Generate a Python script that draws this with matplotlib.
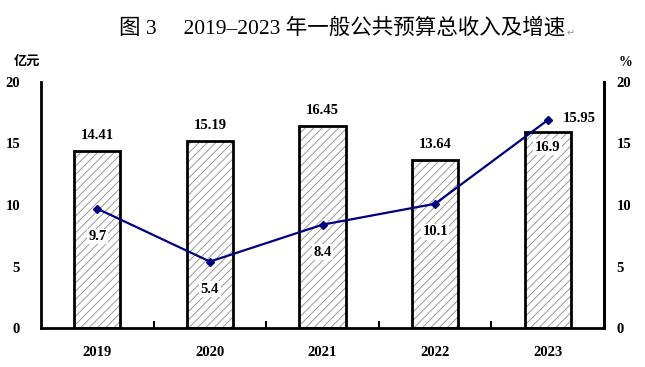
import numpy as np
import matplotlib.pyplot as plt

plt.rcParams['hatch.linewidth'] = 0.7
plt.rcParams['hatch.color'] = '#9a9a9a'

# data
years = ['2019', '2020', '2021', '2022', '2023']
revenue = [14.41, 15.19, 16.45, 13.64, 15.95]   # 亿元
growth = [9.7, 5.4, 8.4, 10.1, 16.9]            # %
yticks = [0, 5, 10, 15, 20]

serif = ['Liberation Serif', 'Noto Sans CJK SC']
fig = plt.figure(figsize=(6.45, 3.67), dpi=100)
ax = fig.add_axes([41/645, 1-328/367, 563/645, 246/367])
x = np.arange(len(years))

# bars: gray hatch first, then black outline on top
ax.bar(x, revenue, width=0.41, color='white', edgecolor='#9a9a9a', linewidth=0, hatch='////', zorder=2)
ax.bar(x, revenue, width=0.41, fill=False, edgecolor='black', linewidth=2, zorder=3)

ax.set_xlim(-0.5, 4.5)
ax.set_ylim(0, 20)
ax.set_yticks(yticks)
ax.set_yticks([20], minor=True)
ax.set_xticks(x)
ax.set_xticklabels(years)
ax.set_xticks(x[:-1] + 0.5, minor=True)
ax.tick_params(axis='x', which='major', length=0, pad=13)
ax.tick_params(axis='x', which='minor', direction='in', length=5, width=1.5)
ax.tick_params(axis='y', which='major', length=0, pad=15)
ax.tick_params(axis='y', which='minor', direction='in', length=5, width=1.5)
for lab in ax.get_xticklabels() + ax.get_yticklabels():
    lab.set_fontfamily(serif)
    lab.set_fontweight('bold')
    lab.set_fontsize(10.5)
for s in ['left', 'bottom', 'right']:
    ax.spines[s].set_linewidth(2)
ax.spines['top'].set_visible(False)

# growth line on right axis
ax2 = ax.twinx()
ax2.set_ylim(0, 20)
ax2.set_yticks(yticks)
ax2.set_yticks([20], minor=True)
ax2.plot(x, growth, color='#000080', linewidth=1.6, marker='D', markersize=4, zorder=4)
ax2.tick_params(axis='y', which='major', length=0, pad=9)
ax2.tick_params(axis='y', which='minor', direction='in', length=5, width=1.5)
for lab in ax2.get_yticklabels():
    lab.set_fontfamily(serif)
    lab.set_fontweight('bold')
    lab.set_fontsize(10.5)
ax2.spines['top'].set_visible(False)
ax2.spines['right'].set_linewidth(2)
ax2.spines['left'].set_visible(False)
ax2.spines['bottom'].set_visible(False)

# labels
for i, v in enumerate(revenue):
    if i == 4:
        ax2.annotate(f'{v:.2f}', (x[i], growth[i]), xytext=(23, 1), textcoords='offset points',
                     ha='center', va='center', fontsize=10.5, fontweight='bold', family=serif)
    else:
        ax.annotate(f'{v:.2f}', (x[i], v), xytext=(0, 11), textcoords='offset points',
                    ha='center', va='center', fontsize=10.5, fontweight='bold', family=serif)
for i, g in enumerate(growth):
    if i == 4:
        ax.annotate(f'{g}', (x[i], revenue[i]), xytext=(0, -11), textcoords='offset points',
                    ha='center', va='center', fontsize=10.5, fontweight='bold', family=serif,
                    bbox=dict(facecolor='white', edgecolor='none', pad=1))
    else:
        ax2.annotate(f'{g}', (x[i], g), xytext=(0, -20), textcoords='offset points',
                     ha='center', va='center', fontsize=10.5, fontweight='bold', family=serif,
                     bbox=dict(facecolor='white', edgecolor='none', pad=1))

fig.text(342/645, 1-28/367, '图 3\u2003 2019–2023 年一般公共预算总收入及增速', ha='center', va='center',
         fontsize=15.5, family=serif)
fig.text(567/645, 1-33/367, '↵', ha='left', va='center', fontsize=7, color='#999999', family=['DejaVu Sans'])
fig.text(27/645, 1-62/367, '亿元', ha='center', va='center', fontsize=9.5, fontweight='bold', family=serif)
fig.text(626/645, 1-62/367, '%', ha='center', va='center', fontsize=10, fontweight='bold', family=serif)

fig.savefig('out.png', dpi=100)
